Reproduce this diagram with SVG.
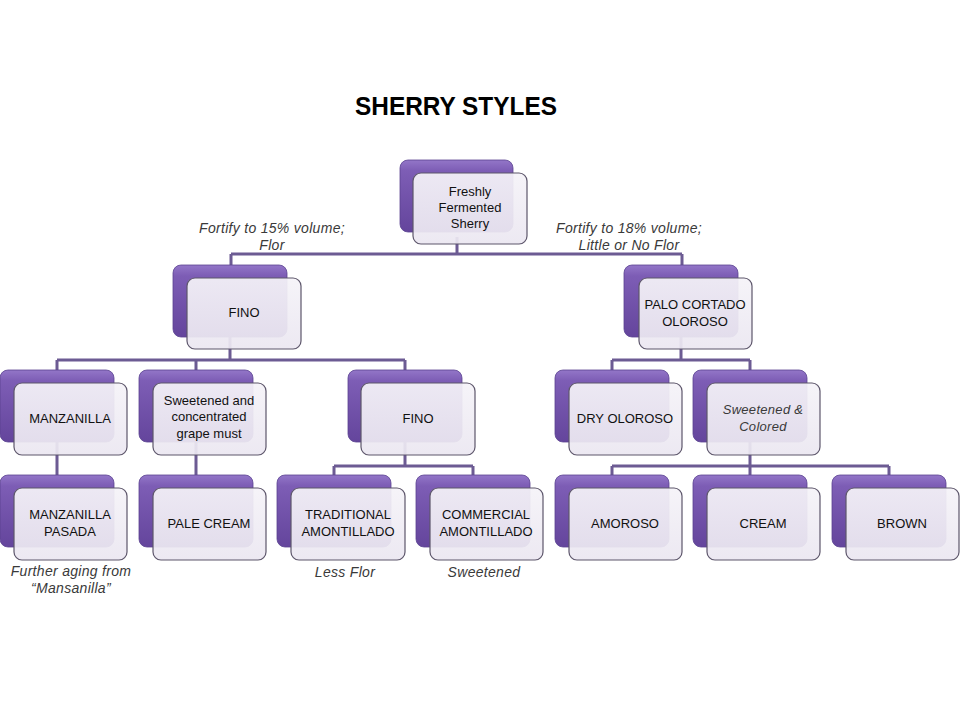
<svg xmlns="http://www.w3.org/2000/svg" width="960" height="720" viewBox="0 0 960 720">
<defs>
<linearGradient id="gBack" x1="0" y1="0" x2="0" y2="1">
<stop offset="0" stop-color="#9376c8"/>
<stop offset="0.15" stop-color="#7d5db5"/>
<stop offset="1" stop-color="#64459c"/>
</linearGradient>
<linearGradient id="gFront" x1="0" y1="0" x2="0" y2="1">
<stop offset="0" stop-color="#f5f3f8"/>
<stop offset="1" stop-color="#ebe7f1"/>
</linearGradient>
</defs>
<style>
.back{fill:url(#gBack);stroke:#5b4290;stroke-width:0.8}
.front{fill:url(#gFront);fill-opacity:0.93;stroke:#5d566b;stroke-width:1.2}
.conn{fill:none;stroke:#6c5b93;stroke-width:3}
.t{font-family:"Liberation Sans",Arial,sans-serif;font-size:13px;fill:#111;text-anchor:middle}
.ti{font-family:"Liberation Sans",Arial,sans-serif;font-size:14px;font-style:italic;fill:#3a3a3a;text-anchor:middle;letter-spacing:0.3px}
.title{font-family:"Liberation Sans",Arial,sans-serif;font-size:26px;font-weight:bold;fill:#000}
</style>
<rect width="960" height="720" fill="#ffffff"/>
<text class="title" x="355" y="115" textLength="202" lengthAdjust="spacingAndGlyphs">SHERRY STYLES</text>

<g id="connectors">
<path class="conn" d="M457 237 V254 M231 254 H682 M231 254 V265 M682 254 V265"/>
<path class="conn" d="M230 337 V360 M57 360 H405 M57 360 V370 M196 360 V370 M405 360 V370"/>
<path class="conn" d="M681 337 V360 M612 360 H750 M612 360 V370 M750 360 V370"/>
<path class="conn" d="M57 442 V475 M196 442 V475"/>
<path class="conn" d="M405 442 V466 M334 466 H473 M334 466 V475 M473 466 V475"/>
<path class="conn" d="M750 442 V466 M612 466 H889 M612 466 V475 M750 466 V475 M889 466 V475"/>
</g>

<g id="labels">
<text class="ti" x="272" y="233">Fortify to 15% volume;</text>
<text class="ti" x="272" y="250">Flor</text>
<text class="ti" x="629" y="233">Fortify to 18% volume;</text>
<text class="ti" x="629" y="250">Little or No Flor</text>
<text class="ti" x="71" y="576">Further aging from</text>
<text class="ti" x="71" y="593">“Mansanilla”</text>
<text class="ti" x="345" y="577">Less Flor</text>
<text class="ti" x="484" y="577">Sweetened</text>
</g>

<g id="n-fresh"><rect class="back" x="400" y="160" width="113" height="72" rx="8"/><rect class="front" x="413" y="173" width="114" height="71" rx="8"/>
<text class="t" x="470" y="196">Freshly</text><text class="t" x="470" y="212">Fermented</text><text class="t" x="470" y="228">Sherry</text></g>

<g id="n-fino1"><rect class="back" x="173" y="265" width="114" height="72" rx="8"/><rect class="front" x="187" y="278" width="114" height="71" rx="8"/>
<text class="t" x="244" y="317">FINO</text></g>

<g id="n-palo"><rect class="back" x="624" y="265" width="114" height="72" rx="8"/><rect class="front" x="639" y="278" width="113" height="71" rx="8"/>
<text class="t" x="695" y="309">PALO CORTADO</text><text class="t" x="695" y="326">OLOROSO</text></g>

<g id="n-manz"><rect class="back" x="0" y="370" width="114" height="72" rx="8"/><rect class="front" x="14" y="383" width="113" height="72" rx="8"/>
<text class="t" x="70" y="423">MANZANILLA</text></g>

<g id="n-sweet"><rect class="back" x="139" y="370" width="114" height="72" rx="8"/><rect class="front" x="153" y="383" width="113" height="72" rx="8"/>
<text class="t" x="209" y="405">Sweetened and</text><text class="t" x="209" y="421">concentrated</text><text class="t" x="209" y="438">grape must</text></g>

<g id="n-fino2"><rect class="back" x="348" y="370" width="114" height="72" rx="8"/><rect class="front" x="361" y="383" width="114" height="72" rx="8"/>
<text class="t" x="418" y="423">FINO</text></g>

<g id="n-dry"><rect class="back" x="555" y="370" width="114" height="72" rx="8"/><rect class="front" x="569" y="383" width="113" height="72" rx="8"/>
<text class="t" x="625" y="423">DRY OLOROSO</text></g>

<g id="n-sweetcol"><rect class="back" x="693" y="370" width="114" height="72" rx="8"/><rect class="front" x="707" y="383" width="113" height="72" rx="8"/>
<text class="ti" x="763" y="414" style="font-size:13px">Sweetened &amp;</text><text class="ti" x="763" y="431" style="font-size:13px">Colored</text></g>

<g id="n-pasada"><rect class="back" x="0" y="475" width="114" height="72" rx="8"/><rect class="front" x="14" y="488" width="113" height="72" rx="8"/>
<text class="t" x="70" y="519">MANZANILLA</text><text class="t" x="70" y="536">PASADA</text></g>

<g id="n-pale"><rect class="back" x="139" y="475" width="114" height="72" rx="8"/><rect class="front" x="153" y="488" width="113" height="72" rx="8"/>
<text class="t" x="209" y="528">PALE CREAM</text></g>

<g id="n-trad"><rect class="back" x="277" y="475" width="114" height="72" rx="8"/><rect class="front" x="291" y="488" width="114" height="72" rx="8"/>
<text class="t" x="348" y="519">TRADITIONAL</text><text class="t" x="348" y="536">AMONTILLADO</text></g>

<g id="n-comm"><rect class="back" x="416" y="475" width="114" height="72" rx="8"/><rect class="front" x="430" y="488" width="113" height="72" rx="8"/>
<text class="t" x="486" y="519">COMMERCIAL</text><text class="t" x="486" y="536">AMONTILLADO</text></g>

<g id="n-amoroso"><rect class="back" x="555" y="475" width="114" height="72" rx="8"/><rect class="front" x="569" y="488" width="113" height="72" rx="8"/>
<text class="t" x="625" y="528">AMOROSO</text></g>

<g id="n-cream"><rect class="back" x="693" y="475" width="114" height="72" rx="8"/><rect class="front" x="707" y="488" width="113" height="72" rx="8"/>
<text class="t" x="763" y="528">CREAM</text></g>

<g id="n-brown"><rect class="back" x="832" y="475" width="114" height="72" rx="8"/><rect class="front" x="846" y="488" width="113" height="72" rx="8"/>
<text class="t" x="902" y="528">BROWN</text></g>
</svg>
